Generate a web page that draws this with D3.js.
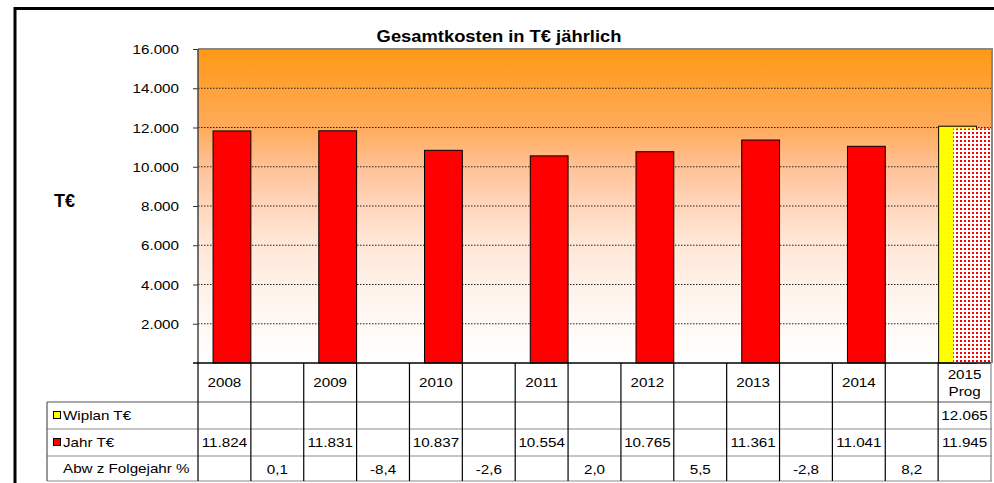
<!DOCTYPE html>
<html>
<head>
<meta charset="utf-8">
<script src="https://cdn.jsdelivr.net/npm/d3@7"></script>
<style>
  body { margin: 0; background: #fff; }
  svg { display: block; font-family: "Liberation Sans", Arial, sans-serif; }
</style>
</head>
<body>
<svg id="chart" width="994" height="483"></svg>
<script>
// values
const years = ["2008", "2009", "2010", "2011", "2012", "2013", "2014", "2015"];
const jahr = [11824, 11831, 10837, 10554, 10765, 11361, 11041, 11945];
const wiplan = [null, null, null, null, null, null, null, 12065];
const abw = ["0,1", "-8,4", "-2,6", "2,0", "5,5", "-2,8", "8,2"];
const yTicks = [2000, 4000, 6000, 8000, 10000, 12000, 14000, 16000];
const rowLabels = ["Wiplan T€", "Jahr T€", "Abw z Folgejahr %"];

const svg = d3.select("#chart");
const sx = 1.17; // the original text is drawn a bit wider than Arial

// year columns with a gap column between each pair
const cols = [];
years.forEach((yr, i) => {
    cols.push(yr);
    if (i < years.length - 1) cols.push(yr + "-" + years[i + 1]);
});

const plot = { left: 198, right: 991, top: 49, bottom: 363 };
const x = d3.scaleBand().domain(cols).range([plot.left, plot.right]);
const y = d3.scaleLinear().domain([0, 16000]).range([plot.bottom, plot.top]);
const bw = x.bandwidth();
const barW = bw * 0.715;

const fmt = d3.formatLocale({ decimal: ",", thousands: ".", grouping: [3], currency: ["", "€"] }).format(",");

// outer frame
svg.append("rect")
    .attr("x", 15).attr("y", 8.5)
    .attr("width", 1000).attr("height", 500)
    .attr("fill", "none").attr("stroke", "#000").attr("stroke-width", 3);

// background gradient
const defs = svg.append("defs");
const grad = defs.append("linearGradient")
    .attr("id", "bg").attr("x1", 0).attr("y1", 0).attr("x2", 0).attr("y2", 1);
[[0, "#ff9915"], [0.25, "#ffab5c"], [0.4, "#ffc6a0"], [0.6, "#ffe5d4"], [0.8, "#fff5ef"], [1, "#ffffff"]]
    .forEach(s => grad.append("stop").attr("offset", s[0]).attr("stop-color", s[1]));

// dotted fill for the forecast bar
const pat = defs.append("pattern")
    .attr("id", "dots").attr("patternUnits", "userSpaceOnUse")
    .attr("width", 4).attr("height", 4);
pat.append("rect").attr("width", 4).attr("height", 4).attr("fill", "#fff");
pat.append("rect").attr("width", 2).attr("height", 2).attr("fill", "#ff0000");

svg.append("rect")
    .attr("x", plot.left).attr("y", plot.top)
    .attr("width", plot.right - plot.left).attr("height", plot.bottom - plot.top)
    .attr("fill", "url(#bg)");

// gridlines
svg.append("g")
    .selectAll("line")
    .data(yTicks.slice(0, -1))
    .join("line")
    .attr("x1", plot.left).attr("x2", plot.right)
    .attr("y1", d => y(d)).attr("y2", d => y(d))
    .attr("stroke", "#222").attr("stroke-width", 1)
    .attr("stroke-dasharray", "1.5,1.5");

// plot border top and right
svg.append("path")
    .attr("d", `M${plot.left},${plot.top}H${plot.right + 1}V${plot.bottom}`)
    .attr("fill", "none").attr("stroke", "#888").attr("stroke-width", 2);

// y axis
const yAxis = svg.append("g")
    .attr("transform", `translate(${plot.left},0)`)
    .call(d3.axisLeft(y).tickValues(yTicks).tickSize(5).tickFormat(fmt));
yAxis.select(".domain").remove();
yAxis.selectAll("line").attr("stroke", "#333");
yAxis.selectAll("text")
    .attr("x", null).attr("dy", "0.35em")
    .attr("transform", `translate(-19,0) scale(${sx},1)`)
    .attr("font-family", "Liberation Sans, Arial, sans-serif")
    .attr("font-size", 13).attr("fill", "#000");

svg.append("line")
    .attr("x1", plot.left).attr("x2", plot.left)
    .attr("y1", plot.top).attr("y2", plot.bottom)
    .attr("stroke", "#444").attr("stroke-width", 1.5);

// bars
const barData = years.map((yr, i) => ({ year: yr, jahr: jahr[i], wiplan: wiplan[i] }));

svg.append("g")
    .selectAll("rect")
    .data(barData.filter(d => d.wiplan != null))
    .join("rect")
    .attr("x", d => x(d.year) + 0.5)
    .attr("y", d => y(d.wiplan))
    .attr("width", barW)
    .attr("height", d => plot.bottom - y(d.wiplan))
    .attr("fill", "#ffff00").attr("stroke", "#000").attr("stroke-width", 1);

svg.append("g")
    .selectAll("rect")
    .data(barData)
    .join("rect")
    .attr("x", d => x(d.year) + bw - barW)
    .attr("y", d => y(d.jahr))
    .attr("width", barW)
    .attr("height", d => plot.bottom - y(d.jahr))
    .attr("fill", d => d.wiplan != null ? "url(#dots)" : "#ff0000")
    .attr("stroke", d => d.wiplan != null ? "none" : "#000")
    .attr("stroke-width", 1);

// x axis line
svg.append("line")
    .attr("x1", plot.left - 5).attr("x2", plot.right)
    .attr("y1", plot.bottom).attr("y2", plot.bottom)
    .attr("stroke", "#000").attr("stroke-width", 1.5);

// title
svg.append("text")
    .attr("x", 499).attr("y", 42)
    .attr("text-anchor", "middle")
    .attr("font-weight", "bold").attr("font-size", 17)
    .attr("transform", "translate(499,0) scale(1.08,1) translate(-499,0)")
    .text("Gesamtkosten in T€ jährlich");

svg.append("text")
    .attr("x", 54).attr("y", 207)
    .attr("font-weight", "bold").attr("font-size", 18)
    .text("T€");

// data table
const tab = { left: 47, rows: [363, 402, 429, 456, 481] };
const table = svg.append("g");

function label(tx, ty, txt, anchor) {
    table.append("text")
        .attr("transform", `translate(${tx},${ty}) scale(${sx},1)`)
        .attr("text-anchor", anchor || "middle")
        .attr("font-size", 13)
        .text(txt);
}

// horizontal lines
tab.rows.slice(1).forEach((ry, i) => {
    table.append("line")
        .attr("x1", tab.left).attr("x2", plot.right + 1)
        .attr("y1", ry).attr("y2", ry)
        .attr("stroke", i === 0 ? "#555" : "#8c8c8c").attr("stroke-width", 1.2);
});

// vertical lines
const edges = cols.map(c => x(c)).concat([plot.right]);
edges.forEach((ex, i) => {
    table.append("line")
        .attr("x1", ex).attr("x2", ex)
        .attr("y1", tab.rows[0]).attr("y2", tab.rows[4])
        .attr("stroke", i === edges.length - 1 ? "#888" : "#000").attr("stroke-width", 1.2);
});
table.append("line")
    .attr("x1", tab.left).attr("x2", tab.left)
    .attr("y1", tab.rows[1]).attr("y2", tab.rows[4])
    .attr("stroke", "#555").attr("stroke-width", 1.2);

// header row
years.forEach((yr, i) => {
    const cx = x(yr) + bw / 2;
    if (i === years.length - 1) {
        label(cx, 379, yr);
        label(cx, 396, "Prog");
    } else {
        label(cx, 387, yr);
    }
});

// legend keys and row names
const keyColors = ["#ffff00", "#ff0000", null];
rowLabels.forEach((rl, i) => {
    const rowMid = (tab.rows[i + 1] + tab.rows[i + 2]) / 2;
    if (keyColors[i]) {
        table.append("rect")
            .attr("x", 53.5).attr("y", rowMid - 4)
            .attr("width", 7).attr("height", 7)
            .attr("fill", keyColors[i]).attr("stroke", "#000").attr("stroke-width", 1);
    }
    label(63, rowMid + 4.5, rl, "start");
});

// values
const mid = i => (tab.rows[i] + tab.rows[i + 1]) / 2 + 4.5;
years.forEach((yr, i) => {
    if (wiplan[i] != null) label(x(yr) + bw / 2, mid(1), fmt(wiplan[i]));
    label(x(yr) + bw / 2, mid(2), fmt(jahr[i]));
});
abw.forEach((v, i) => {
    const key = years[i] + "-" + years[i + 1];
    label(x(key) + bw / 2, mid(3) + 1, v);
});
</script>
</body>
</html>
